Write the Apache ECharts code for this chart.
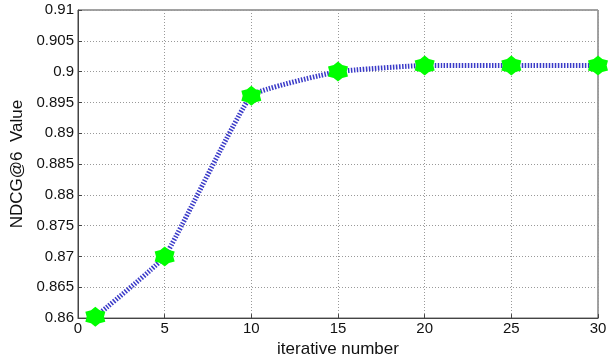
<!DOCTYPE html>
<html><head><meta charset="utf-8">
<script src="https://cdn.jsdelivr.net/npm/echarts@6/dist/echarts.min.js"></script>
<style>html,body{margin:0;padding:0;background:#fff}#c{width:612px;height:363px}</style>
</head><body><div id="c"></div>
<script>
const iterations = [1, 5, 10, 15, 20, 25, 30];
const ndcgValues = [0.8602, 0.8700, 0.8961, 0.9000, 0.9010, 0.9010, 0.9010];
const xAxisTitle = 'iterative number';
const yAxisTitle = 'NDCG@6  Value';

const star = 'path://M10 0 L13.75 3.5 L18.66 5 L17.5 10 L18.66 15 L13.75 16.5 L10 20 L6.25 16.5 L1.34 15 L2.5 10 L1.34 5 L6.25 3.5 Z';
const font = 'Liberation Sans, Arial, sans-serif';
const chart = echarts.init(document.getElementById('c'));
chart.setOption({
  animation: false,
  backgroundColor: '#fff',
  grid: { left: 78, right: 14, top: 10, bottom: 37, show: true, borderColor: '#444', borderWidth: 1 },
  xAxis: {
    type: 'value', min: 0, max: 30, interval: 5,
    name: xAxisTitle, nameLocation: 'middle', nameGap: 17,
    nameTextStyle: { fontFamily: font, fontSize: 17, color: '#111' },
    axisLine: { show: true, lineStyle: { color: '#444' } },
    axisTick: { show: true, inside: true, length: 4, lineStyle: { color: '#444' } },
    axisLabel: { fontFamily: font, fontSize: 15, color: '#111', margin: 3 },
    splitLine: { show: true, lineStyle: { color: '#999', type: [1, 2] } }
  },
  yAxis: {
    type: 'value', min: 0.86, max: 0.91, interval: 0.005,
    name: yAxisTitle, nameLocation: 'middle', nameGap: 48,
    nameTextStyle: { fontFamily: font, fontSize: 17, color: '#111' },
    axisLine: { show: true, lineStyle: { color: '#444' } },
    axisTick: { show: true, inside: true, length: 4, lineStyle: { color: '#444' } },
    axisLabel: { fontFamily: font, fontSize: 15, color: '#111', margin: 4 },
    splitLine: { show: true, lineStyle: { color: '#999', type: [1, 2] } }
  },
  series: [{
    type: 'line',
    data: iterations.map((x, i) => [x, ndcgValues[i]]),
    smooth: 0.1,
    symbol: star, symbolSize: 20,
    itemStyle: { color: '#00ff00', borderWidth: 0 },
    lineStyle: { color: '#3a3ac8', width: 5, type: [1.5, 1.5], cap: 'butt' },
    z: 3
  }]
});
</script></body></html>
